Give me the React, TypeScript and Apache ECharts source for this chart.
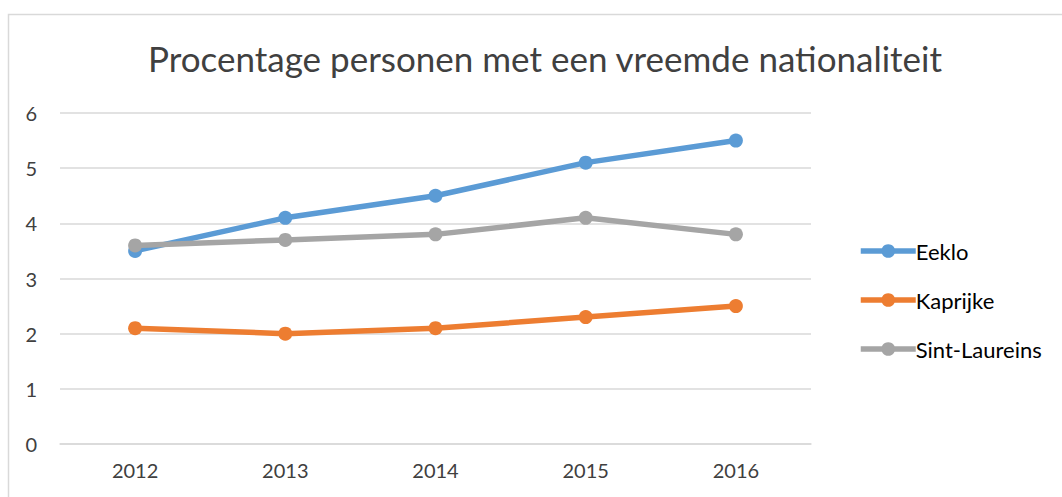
import React, { useEffect, useRef } from "react";
import * as echarts from "echarts";

const years = ["2012", "2013", "2014", "2015", "2016"];
const eeklo = [3.5, 4.1, 4.5, 5.1, 5.5];
const kaprijke = [2.1, 2.0, 2.1, 2.3, 2.5];
const sintLaureins = [3.6, 3.7, 3.8, 4.1, 3.8];
const seriesNames = ["Eeklo", "Kaprijke", "Sint-Laureins"];
const colors = ["#5B9BD5", "#ED7D31", "#A5A5A5"];
const titleText = "Procentage personen met een vreemde nationaliteit";

const FONT = "Lato, 'Open Sans', sans-serif";

export default function App() {
  const ref = useRef<HTMLDivElement>(null);
  useEffect(() => {
    if (!ref.current) return;
    const chart = echarts.init(ref.current, undefined, { renderer: "svg" });
    const data = [eeklo, kaprijke, sintLaureins];
    chart.setOption({
      animation: false,
      backgroundColor: "#ffffff",
      textStyle: { fontFamily: FONT },
      title: {
        text: titleText,
        left: 540,
        textAlign: "center",
        top: 35,
        textStyle: { fontFamily: FONT, fontSize: 35, fontWeight: "normal", color: "#404040" },
      },
      graphic: [
        {
          type: "rect",
          shape: { x: 8.5, y: 14.5, width: 1100, height: 600 },
          style: { fill: "none", stroke: "#d9d9d9", lineWidth: 1.5 },
          silent: true,
        },
      ],
      legend: {
        orient: "vertical",
        left: 853,
        top: 234,
        itemWidth: 55,
        itemHeight: 17,
        itemGap: 25,
        data: seriesNames,
        lineStyle: { width: 5.5 },
        textStyle: { fontFamily: FONT, fontSize: 22, color: "#000000", lineHeight: 24, padding: [0, 0, 0, -5] },
      },
      grid: { left: 60, right: 251, top: 113, bottom: 53, containLabel: false },
      xAxis: {
        type: "category",
        data: years,
        boundaryGap: true,
        axisLine: { lineStyle: { color: "#d9d9d9", width: 1.5 } },
        axisTick: { show: false },
        axisLabel: { fontFamily: FONT, fontSize: 20, color: "#404040", margin: 16 },
      },
      yAxis: {
        type: "value",
        min: 0,
        max: 6,
        interval: 1,
        axisLine: { show: false },
        axisTick: { show: false },
        splitLine: { lineStyle: { color: "#d9d9d9", width: 1.5 } },
        axisLabel: { fontFamily: FONT, fontSize: 20, color: "#404040", margin: 23 },
      },
      series: seriesNames.map((name, i) => ({
        name,
        type: "line",
        data: data[i],
        symbol: "circle",
        symbolSize: 14,
        lineStyle: { width: 5.5, color: colors[i] },
        itemStyle: { color: colors[i] },
        z: i === 2 ? 3 : 2,
      })),
    });
    return () => chart.dispose();
  }, []);
  return (
    <div
      ref={ref}
      style={{ position: "fixed", left: 0, top: 0, width: 1062, height: 497 }}
    />
  );
}
